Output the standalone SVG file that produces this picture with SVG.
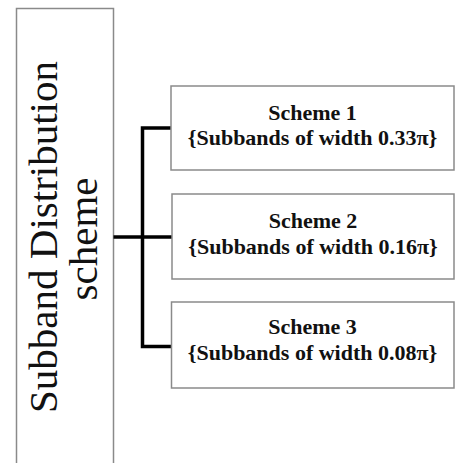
<svg xmlns="http://www.w3.org/2000/svg" width="456" height="463" viewBox="0 0 456 463">
  <style>
    .box { fill: #ffffff; stroke: #8a8a8a; stroke-width: 1.5; }
    .wire { fill: none; stroke: #000000; stroke-width: 3.5; stroke-linecap: butt; stroke-linejoin: miter; }
    .root { font-family: "Liberation Serif", "Times New Roman", serif; font-size: 41px; fill: #111; text-anchor: middle; }
    .lbl { font-family: "Liberation Serif", "Times New Roman", serif; font-size: 22px; font-weight: bold; fill: #111; text-anchor: middle; }
  </style>
  <rect width="456" height="463" fill="#ffffff"/>

  <!-- root node: vertical label box running off the bottom edge -->
  <g id="root">
    <rect class="box" x="16.5" y="8.5" width="97" height="470"/>
    <text class="root" transform="translate(57,237) rotate(-90)">Subband Distribution</text>
    <text class="root" transform="translate(97,239) rotate(-90)">scheme</text>
  </g>

  <!-- bracket connecting root to the three schemes -->
  <g id="connectors">
    <path class="wire" d="M171,128 H142.5 V346.5 H171"/>
    <path class="wire" d="M113.5,237 H172" stroke-width="4.5"/>
  </g>

  <g id="scheme1">
    <rect class="box" x="171" y="86" width="283" height="84"/>
    <text class="lbl" x="312.5" y="120">Scheme 1</text>
    <text class="lbl" x="312.5" y="145">{Subbands of width 0.33π}</text>
  </g>

  <g id="scheme2">
    <rect class="box" x="172" y="194" width="282" height="85"/>
    <text class="lbl" x="313" y="228">Scheme 2</text>
    <text class="lbl" x="313" y="254">{Subbands of width 0.16π}</text>
  </g>

  <g id="scheme3">
    <rect class="box" x="171.5" y="302" width="282.5" height="86"/>
    <text class="lbl" x="312.5" y="334">Scheme 3</text>
    <text class="lbl" x="312.5" y="360">{Subbands of width 0.08π}</text>
  </g>
</svg>
